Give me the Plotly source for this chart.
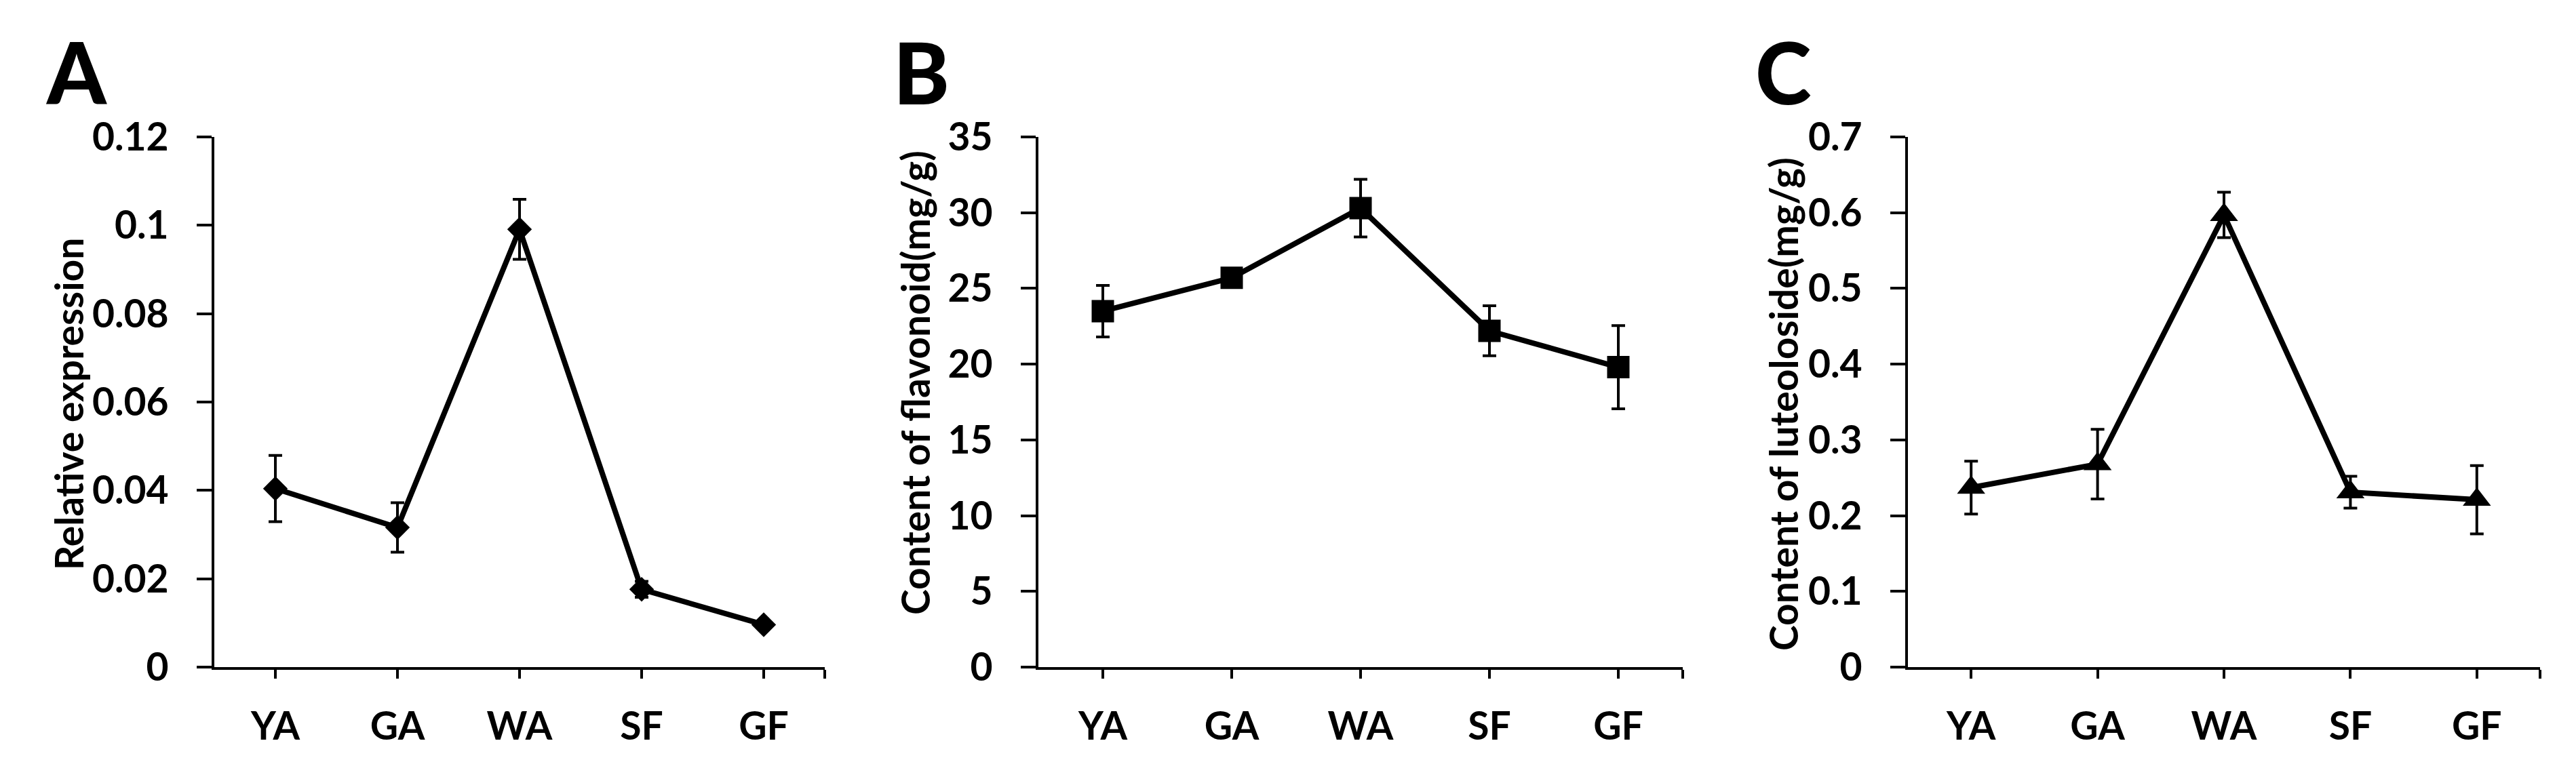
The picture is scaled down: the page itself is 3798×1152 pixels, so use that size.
import plotly.graph_objects as go
from plotly.subplots import make_subplots

W, H = 3798, 1152

stages = ['YA', 'GA', 'WA', 'SF', 'GF']

# A: relative expression
expr = [0.0404, 0.0316, 0.0991, 0.0176, 0.0096]
expr_err = [0.0075, 0.0056, 0.0068, 0.0018, 0.0006]
# B: flavonoid content (mg/g)
flav = [23.5, 25.7, 30.3, 22.2, 19.8]
flav_err = [1.7, 0.6, 1.9, 1.65, 2.75]
# C: luteoloside content (mg/g)
lut = [0.237, 0.268, 0.597, 0.231, 0.221]
lut_err = [0.035, 0.046, 0.030, 0.021, 0.045]

panels = [
    dict(y=expr, err=expr_err, symbol='diamond', size=28, rng=[0, 0.12], dtick=0.02,
         title='Relative expression', letter='A', xdom=(308, 1208), tx=93, ty=588, lx=57),
    dict(y=flav, err=flav_err, symbol='square', size=33, rng=[0, 35], dtick=5,
         title='Content of flavonoid(mg/g)', letter='B', xdom=(1523, 2473), tx=1341, ty=557, lx=1307),
    dict(y=lut, err=lut_err, symbol='triangle-up', size=36, rng=[0, 0.7], dtick=0.1,
         title='Content of luteoloside(mg/g)', letter='C', xdom=(2805, 3737), tx=2621, ty=588, lx=2578),
]

font_main = dict(family='Lato', size=57, color='black', weight='bold')

# category positions, plus an extra tick at the right end of the axis (Excel style)
xpos = list(range(len(stages)))
tickvals = xpos + [len(stages) - 0.5]
ticktext = stages + ['']

fig = make_subplots(rows=1, cols=3)

for i, p in enumerate(panels):
    col = i + 1
    fig.add_trace(
        go.Scatter(
            x=xpos, y=p['y'],
            mode='lines+markers',
            line=dict(color='black', width=8),
            marker=dict(symbol=p['symbol'], size=p['size'], color='black'),
            error_y=dict(type='data', array=p['err'], visible=True,
                         thickness=4, width=10, color='black'),
            showlegend=False,
        ),
        row=1, col=col,
    )
    fig.update_xaxes(
        domain=[p['xdom'][0] / W, p['xdom'][1] / W],
        range=[-0.5, len(stages) - 0.5], automargin=False,
        tickmode='array', tickvals=tickvals, ticktext=ticktext,
        showline=True, linewidth=4, linecolor='black',
        ticks='outside', ticklen=13, tickwidth=4, tickcolor='black',
        tickfont=font_main, ticklabelstandoff=22,
        showgrid=False, zeroline=False,
        row=1, col=col,
    )
    fig.update_yaxes(
        domain=[1 - 976 / H, 1 - 194 / H],
        range=p['rng'], dtick=p['dtick'], tick0=0, automargin=False,
        showline=True, linewidth=4, linecolor='black',
        ticks='outside', ticklen=22, tickwidth=4, tickcolor='black',
        tickfont=font_main, ticklabelstandoff=30,
        showgrid=False, zeroline=False,
        row=1, col=col,
    )
    # axis title
    fig.add_annotation(
        text=p['title'], textangle=-90,
        x=p['tx'] / W, y=1 - p['ty'] / H, xref='paper', yref='paper',
        xanchor='center', yanchor='middle', showarrow=False,
        font=dict(family='Lato', size=57, color='black', weight='bold'),
    )
    # panel letter
    fig.add_annotation(
        text=p['letter'],
        x=p['lx'] / W, y=1 - 98 / H, xref='paper', yref='paper',
        xanchor='left', yanchor='middle', showarrow=False,
        font=dict(family='Lato', size=125, color='black', weight=900),
    )

fig.update_layout(
    width=W, height=H,
    margin=dict(l=0, r=0, t=0, b=0),
    paper_bgcolor='white', plot_bgcolor='white',
    font=font_main,
)

fig.write_html("out.html")
